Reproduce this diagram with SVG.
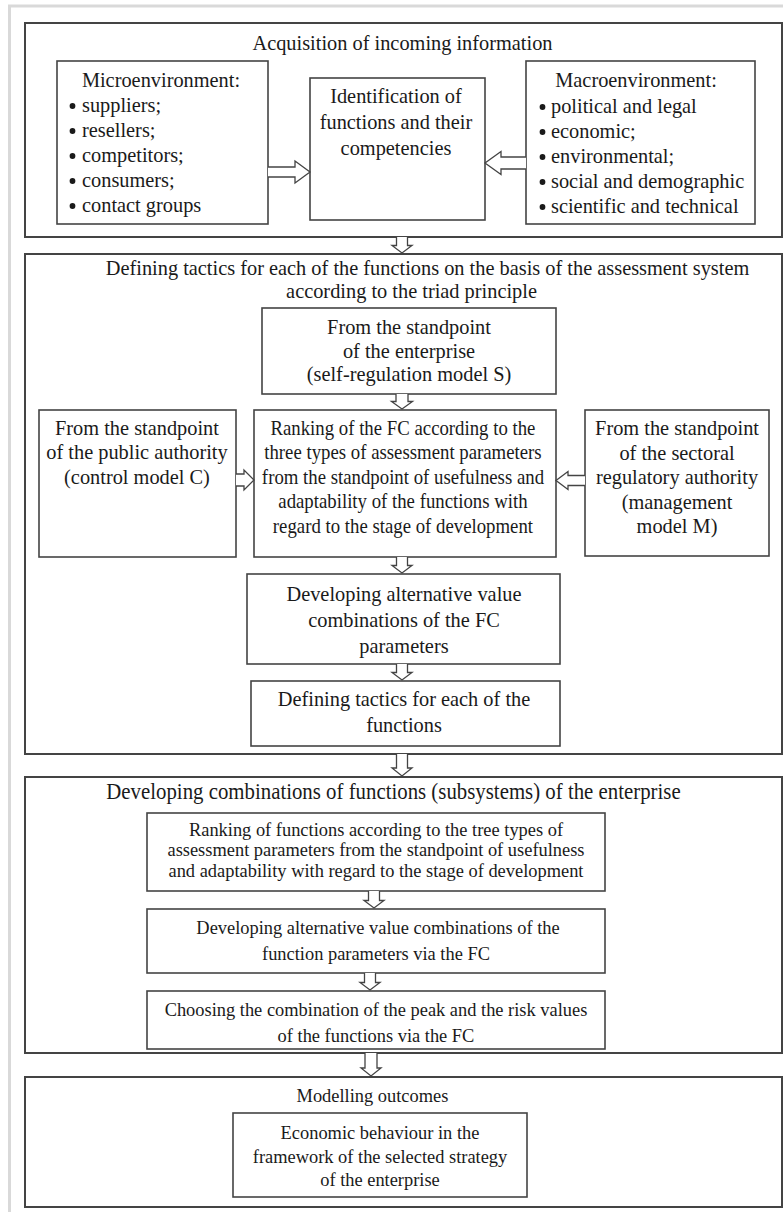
<svg xmlns="http://www.w3.org/2000/svg" width="783" height="1212" viewBox="0 0 783 1212">
  <style>
    text { font-family: "Liberation Serif", "Times New Roman", serif; font-size: 21.9px; fill: #1a1a1a; text-anchor: middle; }
    text.s { font-size: 19.8px; }
    text.m { font-size: 20.2px; }
    text.t { font-size: 22.4px; }
    text.l { text-anchor: start; }
    .sec { fill: #ffffff; stroke: #444444; stroke-width: 2; }
    .box { fill: #ffffff; stroke: #444444; stroke-width: 1.6; }
    .arr { fill: #ffffff; stroke: #444444; stroke-width: 1.3; stroke-linejoin: miter; }
    .dot { fill: #1a1a1a; }
  </style>

  <!-- page -->
  <rect x="0" y="0" width="783" height="1212" fill="#ffffff"/>
  <rect x="9.5" y="6" width="800" height="1230" fill="none" stroke="#d9d9d9" stroke-width="3"/>

  <!-- text blocks are set in a slightly condensed face: x values are divided by 0.93 -->

  <!-- section 1 -->
  <g id="sec-acquisition">
    <rect class="sec" x="25" y="23" width="757" height="214"/>
    <g transform="scale(0.93,1)">
      <text x="432.8" y="50">Acquisition of incoming information</text>
    </g>
  </g>
  <g id="node-micro">
    <rect class="box" x="57" y="61" width="211" height="163"/>
    <circle class="dot" cx="72.5" cy="106" r="2.9"/>
    <circle class="dot" cx="72.5" cy="131" r="2.9"/>
    <circle class="dot" cx="72.5" cy="156" r="2.9"/>
    <circle class="dot" cx="72.5" cy="181" r="2.9"/>
    <circle class="dot" cx="72.5" cy="206" r="2.9"/>
    <g transform="scale(0.93,1)">
      <text x="173.1" y="87.5">Microenvironment:</text>
      <text class="l" x="88.2" y="112">suppliers;</text>
      <text class="l" x="88.2" y="137">resellers;</text>
      <text class="l" x="88.2" y="162">competitors;</text>
      <text class="l" x="88.2" y="187">consumers;</text>
      <text class="l" x="88.2" y="212">contact groups</text>
    </g>
  </g>
  <g id="node-identification">
    <rect class="box" x="310" y="78" width="175" height="142"/>
    <g transform="scale(0.93,1)">
      <text x="425.8" y="103">Identification of</text>
      <text x="425.8" y="129">functions and their</text>
      <text x="425.8" y="155">competencies</text>
    </g>
  </g>
  <g id="node-macro">
    <rect class="box" x="526" y="61" width="229" height="163"/>
    <circle class="dot" cx="542.5" cy="107" r="2.9"/>
    <circle class="dot" cx="542.5" cy="132" r="2.9"/>
    <circle class="dot" cx="542.5" cy="157" r="2.9"/>
    <circle class="dot" cx="542.5" cy="182" r="2.9"/>
    <circle class="dot" cx="542.5" cy="207" r="2.9"/>
    <g transform="scale(0.93,1)">
      <text x="683.9" y="87.5">Macroenvironment:</text>
      <text class="l" x="592.5" y="113">political and legal</text>
      <text class="l" x="592.5" y="138">economic;</text>
      <text class="l" x="592.5" y="163">environmental;</text>
      <text class="l" x="592.5" y="188">social and demographic</text>
      <text class="l" x="592.5" y="213">scientific and technical</text>
    </g>
  </g>

  <!-- section 2 -->
  <g id="sec-tactics">
    <rect class="sec" x="25" y="254" width="757" height="500"/>
    <g transform="scale(0.93,1)">
      <text x="459.7" y="275">Defining tactics for each of the functions on the basis of the assessment system</text>
      <text x="442.5" y="298">according to the triad principle</text>
    </g>
  </g>
  <g id="node-enterprise">
    <rect class="box" x="262" y="308" width="294" height="86"/>
    <g transform="scale(0.93,1)">
      <text x="439.8" y="334">From the standpoint</text>
      <text x="439.8" y="358">of the enterprise</text>
      <text x="439.8" y="381">(self-regulation model S)</text>
    </g>
  </g>
  <g id="node-public">
    <rect class="box" x="39" y="410" width="197" height="147"/>
    <g transform="scale(0.93,1)">
      <text x="147.3" y="435">From the standpoint</text>
      <text x="147.3" y="459.5">of the public authority</text>
      <text x="147.3" y="484">(control model C)</text>
    </g>
  </g>
  <g id="node-ranking-fc">
    <rect class="box" x="254" y="410" width="302" height="147"/>
    <g transform="scale(0.93,1)">
      <text class="m" x="433.3" y="435">Ranking of the FC according to the</text>
      <text class="m" x="433.3" y="459.5">three types of assessment parameters</text>
      <text class="m" x="433.3" y="484">from the standpoint of usefulness and</text>
      <text class="m" x="433.3" y="508.5">adaptability of the functions with</text>
      <text class="m" x="433.3" y="533">regard to the stage of development</text>
    </g>
  </g>
  <g id="node-sectoral">
    <rect class="box" x="585" y="410" width="184" height="146"/>
    <g transform="scale(0.93,1)">
      <text x="728" y="435.5">From the standpoint</text>
      <text x="728" y="460">of the sectoral</text>
      <text x="728" y="484.5">regulatory authority</text>
      <text x="728" y="509">(management</text>
      <text x="728" y="533.5">model M)</text>
    </g>
  </g>
  <g id="node-alt-fc">
    <rect class="box" x="247" y="574" width="313" height="90"/>
    <g transform="scale(0.93,1)">
      <text x="434.4" y="601">Developing alternative value</text>
      <text x="434.4" y="627">combinations of the FC</text>
      <text x="434.4" y="653">parameters</text>
    </g>
  </g>
  <g id="node-tactics-each">
    <rect class="box" x="251" y="681" width="309" height="65"/>
    <g transform="scale(0.93,1)">
      <text x="434.4" y="706">Defining tactics for each of the</text>
      <text x="434.4" y="732">functions</text>
    </g>
  </g>

  <!-- section 3 -->
  <g id="sec-combinations">
    <rect class="sec" x="25" y="777" width="757" height="276"/>
    <g transform="scale(0.93,1)">
      <text class="t" x="423.1" y="799">Developing combinations of functions (subsystems) of the enterprise</text>
    </g>
  </g>
  <g id="node-ranking-functions">
    <rect class="box" x="147" y="813" width="458" height="78"/>
    <g transform="scale(0.93,1)">
      <text class="s" x="404.3" y="836">Ranking of functions according to the tree types of</text>
      <text class="s" x="404.3" y="856.5">assessment parameters from the standpoint of usefulness</text>
      <text class="s" x="404.3" y="877">and adaptability with regard to the stage of development</text>
    </g>
  </g>
  <g id="node-alt-functions">
    <rect class="box" x="147" y="909" width="458" height="64"/>
    <g transform="scale(0.93,1)">
      <text class="s" x="406.5" y="934">Developing alternative value combinations of the</text>
      <text class="s" x="404.3" y="960">function parameters via the FC</text>
    </g>
  </g>
  <g id="node-choosing">
    <rect class="box" x="147" y="991" width="458" height="58"/>
    <g transform="scale(0.93,1)">
      <text class="s" x="404.3" y="1016">Choosing the combination of the peak and the risk values</text>
      <text class="s" x="404.3" y="1042">of the functions via the FC</text>
    </g>
  </g>

  <!-- section 4 -->
  <g id="sec-outcomes">
    <rect class="sec" x="25" y="1077" width="757" height="130"/>
    <g transform="scale(0.93,1)">
      <text class="s" x="400.5" y="1102">Modelling outcomes</text>
    </g>
  </g>
  <g id="node-economic">
    <rect class="box" x="233" y="1113" width="294" height="84"/>
    <g transform="scale(0.93,1)">
      <text class="s" x="408.6" y="1139">Economic behaviour in the</text>
      <text class="s" x="408.6" y="1163">framework of the selected strategy</text>
      <text class="s" x="408.6" y="1186">of the enterprise</text>
    </g>
  </g>

  <!-- hollow block arrows -->
  <g id="connectors">
    <!-- section 1 side inputs -->
    <path class="arr" d="M268,167 H295 V161 L310,172 L295,183 V177 H268"/>
    <path class="arr" d="M526,157 H501 V151.5 L485,163 L501,174.5 V169 H526"/>
    <!-- section 1 to section 2 -->
    <path class="arr" d="M396.5,237 V245.5 H392 L402,253 L412,245.5 H407.5 V237"/>
    <!-- inside section 2 -->
    <path class="arr" d="M396,394 V401.5 H391.5 L402,409 L412.5,401.5 H408 V394"/>
    <path class="arr" d="M236,474 H244 V470 L254,480 L244,490 V486 H236"/>
    <path class="arr" d="M585,475.5 H568 V471.5 L556,480.5 L568,489.5 V485.5 H585"/>
    <path class="arr" d="M396.5,557 V565.5 H392 L402,573 L412,565.5 H407.5 V557"/>
    <path class="arr" d="M396.5,664 V672.5 H392 L402,680 L412,672.5 H407.5 V664"/>
    <!-- section 2 to section 3 -->
    <path class="arr" d="M396.5,754 V768 H392 L402,776 L412,768 H407.5 V754"/>
    <!-- inside section 3 -->
    <path class="arr" d="M368.5,891 V900.5 H364 L374,908 L384,900.5 H379.5 V891"/>
    <path class="arr" d="M364.5,973 V982.5 H360 L370,990 L380,982.5 H375.5 V973"/>
    <!-- section 3 to section 4 -->
    <path class="arr" d="M365,1053 V1068 H361 L371,1076 L381,1068 H377 V1053"/>
  </g>
</svg>
